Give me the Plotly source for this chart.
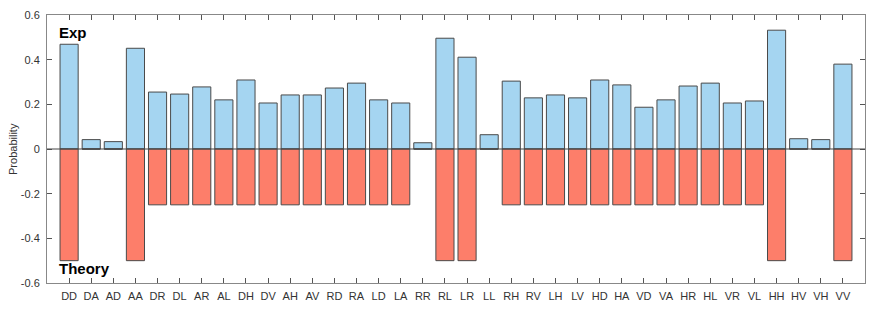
import plotly.graph_objects as go

categories = ["DD","DA","AD","AA","DR","DL","AR","AL","DH","DV","AH","AV",
              "RD","RA","LD","LA","RR","RL","LR","LL","RH","RV","LH","LV",
              "HD","HA","VD","VA","HR","HL","VR","VL","HH","HV","VH","VV"]
exp_values = [0.469,0.042,0.033,0.451,0.255,0.246,0.278,0.220,0.309,0.206,0.242,0.242,
              0.273,0.295,0.220,0.206,0.028,0.496,0.411,0.064,0.304,0.229,0.242,0.229,
              0.309,0.287,0.187,0.220,0.282,0.295,0.206,0.215,0.532,0.046,0.042,0.380]
theory_values = [-0.5,0,0,-0.5,-0.25,-0.25,-0.25,-0.25,-0.25,-0.25,-0.25,-0.25,
                 -0.25,-0.25,-0.25,-0.25,0,-0.5,-0.5,0,-0.25,-0.25,-0.25,-0.25,
                 -0.25,-0.25,-0.25,-0.25,-0.25,-0.25,-0.25,-0.25,-0.5,0,0,-0.5]
y_ticks = [-0.6,-0.4,-0.2,0,0.2,0.4,0.6]
y_ticklabels = ["-0.6","-0.4","-0.2","0","0.2","0.4","0.6"]

x_pos = list(range(1, len(categories) + 1))

fig = go.Figure()
fig.add_trace(go.Bar(x=x_pos, y=exp_values, name="Exp", width=0.82,
                     marker=dict(color="#A5D5F1", line=dict(color="#4a4a4a", width=1))))
fig.add_trace(go.Bar(x=x_pos, y=theory_values, name="Theory", width=0.82,
                     marker=dict(color="#FD7E6A", line=dict(color="#4a4a4a", width=1))))

fig.add_hline(y=0, line=dict(color="#444444", width=1), layer="above")

fig.update_layout(
    width=871, height=310,
    margin=dict(l=47, r=6, t=15, b=27, autoexpand=False),
    barmode="overlay",
    showlegend=False,
    plot_bgcolor="white", paper_bgcolor="white",
    font=dict(family="Liberation Sans, Arial, sans-serif", size=11, color="#333333"),
    xaxis=dict(range=[0, 37], tickmode="array", tickvals=x_pos, ticktext=categories,
               ticks="inside", ticklen=5, tickcolor="#555555", showgrid=False, zeroline=False,
               showline=True, linecolor="#888888", linewidth=1, mirror="ticks",
               automargin=False, ticklabelstandoff=3,
               tickfont=dict(size=11, color="#333333")),
    yaxis=dict(range=[-0.6, 0.6], tickmode="array", tickvals=y_ticks, ticktext=y_ticklabels,
               ticks="inside", ticklen=5, tickcolor="#555555", showgrid=False, zeroline=False,
               showline=True, linecolor="#888888", linewidth=1, mirror="ticks",
               automargin=False, ticklabelstandoff=4,
               tickfont=dict(size=11, color="#333333")),
    annotations=[
        dict(text="Probability", x=-0.0416, y=0.5, xref="paper", yref="paper",
             xanchor="center", yanchor="middle", textangle=-90, showarrow=False,
             font=dict(size=11, color="#333333")),
        dict(text="<b>Exp</b>", x=0.012, y=0.52, xref="paper", yref="y", xanchor="left",
             yanchor="middle", showarrow=False,
             font=dict(size=15, color="black", family="Liberation Sans, Arial, sans-serif")),
        dict(text="<b>Theory</b>", x=0.012, y=-0.535, xref="paper", yref="y", xanchor="left",
             yanchor="middle", showarrow=False,
             font=dict(size=15, color="black", family="Liberation Sans, Arial, sans-serif")),
    ],
)

fig.write_html("out.html", config={"displayModeBar": False},
               post_script="document.body.style.margin='0';document.body.style.padding='0';")
